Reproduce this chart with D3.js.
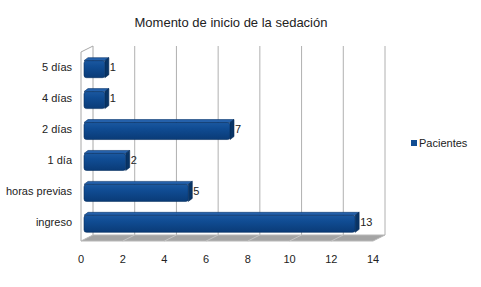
<!DOCTYPE html>
<html>
<head>
<meta charset="utf-8">
<script src="https://cdn.jsdelivr.net/npm/d3@7"></script>
<style>
  body { margin: 0; background: #fff; }
  text { font-family: "Liberation Sans", Arial, sans-serif; fill: #222; }
</style>
</head>
<body>
<div id="chart"></div>
<script>
// data
const categories = ["5 días", "4 días", "2 días", "1 día", "horas previas", "ingreso"];
const pacientes = [1, 1, 7, 2, 5, 13];
const xTicks = [0, 2, 4, 6, 8, 10, 12, 14];
const seriesName = "Pacientes";
const title = "Momento de inicio de la sedación";

const width = 481, height = 287;
const depth = {dx: 12, dy: -6};

const svg = d3.select("#chart").append("svg")
    .attr("width", width)
    .attr("height", height);

const x = d3.scaleLinear().domain([0, 14]).range([81, 373]);
const y = d3.scaleBand().domain(categories).range([52, 241]).paddingInner(0.45).paddingOuter(0.28);

const plotTop = 52, plotBottom = 241;

// gradient for bar front
const defs = svg.append("defs");
const grad = defs.append("linearGradient").attr("id", "barGrad")
    .attr("x1", 0).attr("y1", 0).attr("x2", 0).attr("y2", 1);
grad.append("stop").attr("offset", "0%").attr("stop-color", "#1b58a0");
grad.append("stop").attr("offset", "35%").attr("stop-color", "#104c93");
grad.append("stop").attr("offset", "100%").attr("stop-color", "#0a3b77");

// left wall
svg.append("path")
    .attr("d", `M${x(0)},${plotBottom} L${x(0)},${plotTop} L${x(0) + depth.dx},${plotTop + depth.dy} L${x(0) + depth.dx},${plotBottom + depth.dy}`)
    .attr("fill", "#fff")
    .attr("stroke", "#a8a8a8");

// back wall gridlines
svg.append("g").selectAll("line")
    .data(xTicks.slice(1))
    .join("line")
    .attr("x1", d => x(d) + depth.dx)
    .attr("x2", d => x(d) + depth.dx)
    .attr("y1", plotTop + depth.dy)
    .attr("y2", plotBottom + depth.dy)
    .attr("stroke", "#b0b0b0");

// floor
svg.append("path")
    .attr("d", `M${x(0)},${plotBottom} L${x(14)},${plotBottom} L${x(14) + depth.dx},${plotBottom + depth.dy} L${x(0) + depth.dx},${plotBottom + depth.dy}Z`)
    .attr("fill", "#a4a4a4")
    .attr("stroke", "#b8b8b8");

svg.append("g").selectAll("line")
    .data(xTicks.slice(1, -1))
    .join("line")
    .attr("x1", d => x(d))
    .attr("x2", d => x(d) + depth.dx)
    .attr("y1", plotBottom)
    .attr("y2", plotBottom + depth.dy)
    .attr("stroke", "#c4c4c4");

// bars
const bx = 3;          // offset of bar from front
const cap = {dx: 4, dy: -3};
const bh = y.bandwidth();

const bars = svg.append("g").selectAll("g")
    .data(categories.map((c, i) => ({cat: c, value: pacientes[i]})))
    .join("g");

// top face
bars.append("path")
    .attr("d", d => {
        let x0 = x(0) + bx, x1 = x(d.value) + bx, yy = y(d.cat);
        return `M${x0},${yy} L${x0 + cap.dx},${yy + cap.dy} L${x1 + cap.dx},${yy + cap.dy} L${x1},${yy}Z`;
    })
    .attr("fill", "#2561ab")
    .attr("stroke", "#0a356c")
    .attr("stroke-width", 0.6)
    .attr("stroke-linejoin", "round");

// right cap
bars.append("path")
    .attr("d", d => {
        let x1 = x(d.value) + bx, yy = y(d.cat);
        return `M${x1},${yy} L${x1 + cap.dx},${yy + cap.dy} L${x1 + cap.dx},${yy + bh + cap.dy} L${x1},${yy + bh}Z`;
    })
    .attr("fill", "#083466")
    .attr("stroke", "#062a55")
    .attr("stroke-width", 0.6)
    .attr("stroke-linejoin", "round");

// front face
bars.append("rect")
    .attr("x", x(0) + bx)
    .attr("y", d => y(d.cat))
    .attr("width", d => x(d.value) - x(0))
    .attr("height", bh)
    .attr("rx", 2.5)
    .attr("fill", "url(#barGrad)")
    .attr("stroke", "#072f60")
    .attr("stroke-width", 0.6);

// value labels
bars.append("text")
    .attr("x", d => x(d.value) + bx + cap.dx + 1)
    .attr("y", d => y(d.cat) + bh / 2 + 2)
    .attr("font-size", 11)
    .attr("fill", "#333")
    .text(d => d.value);

// category labels
svg.append("g").selectAll("text")
    .data(categories)
    .join("text")
    .attr("x", 72)
    .attr("y", d => y(d) + bh / 2 + 2)
    .attr("text-anchor", "end")
    .attr("font-size", 11)
    .text(d => d);

// x tick labels
svg.append("g").selectAll("text")
    .data(xTicks)
    .join("text")
    .attr("x", d => x(d))
    .attr("y", 263)
    .attr("text-anchor", "middle")
    .attr("font-size", 11)
    .text(d => d);

// title
svg.append("text")
    .attr("x", 231)
    .attr("y", 27)
    .attr("text-anchor", "middle")
    .attr("font-size", 13)
    .text(title);

// legend
svg.append("rect")
    .attr("x", 411)
    .attr("y", 140)
    .attr("width", 6)
    .attr("height", 6)
    .attr("fill", "#104c93");

svg.append("text")
    .attr("x", 419)
    .attr("y", 147)
    .attr("font-size", 11)
    .text(seriesName);
</script>
</body>
</html>
